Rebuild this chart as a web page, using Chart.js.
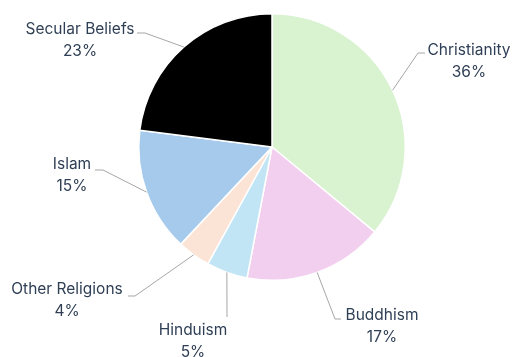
<!DOCTYPE html>
<html>
<head>
<meta charset="utf-8">
<script src="https://cdn.jsdelivr.net/npm/chart.js@4.4.1/dist/chart.umd.min.js"></script>
<style>
  html, body { margin: 0; padding: 0; background: #fff; }
  #wrap { width: 513px; height: 357px; }
</style>
</head>
<body>
<div id="wrap"><canvas id="myChart" width="513" height="357"></canvas></div>
<script>
const categories = ['Christianity', 'Buddhism', 'Hinduism', 'Other Religions', 'Islam', 'Secular Beliefs'];
const shares = [36, 17, 5, 4, 15, 23];
const sliceColors = ['#d9f2d0', '#f2cfee', '#c1e5f5', '#fbe3d6', '#a6caec', '#000000'];

// where each label sits: elbow of the leader, end of the leader, text centre of the first line
const labelLayout = [
  { elbow: [418, 53], end: [425, 53], tx: 469, ty: 50 },
  { elbow: [335, 319], end: [341, 319], tx: 382, ty: 315 },
  { elbow: [227, 317], end: [227, 317], tx: 193, ty: 330 },
  { elbow: [135, 296], end: [128, 296], tx: 67, ty: 289 },
  { elbow: [103, 170], end: [95, 170], tx: 72, ty: 164 },
  { elbow: [145, 33], end: [137, 33], tx: 80, ty: 29 }
];

const outsideLabels = {
  id: 'outsideLabels',
  afterDraw(chart) {
    const ctx = chart.ctx;
    const arcs = chart.getDatasetMeta(0).data;
    ctx.save();
    arcs.forEach((arc, i) => {
      const p = arc.getProps(['x', 'y', 'startAngle', 'endAngle', 'outerRadius'], true);
      const mid = (p.startAngle + p.endAngle) / 2;
      const sx = p.x + Math.cos(mid) * p.outerRadius;
      const sy = p.y + Math.sin(mid) * p.outerRadius;
      const l = labelLayout[i];
      ctx.strokeStyle = '#a6a6a6';
      ctx.lineWidth = 1;
      ctx.beginPath();
      ctx.moveTo(sx, sy);
      ctx.lineTo(l.elbow[0], l.elbow[1]);
      ctx.lineTo(l.end[0], l.end[1]);
      ctx.stroke();
      ctx.fillStyle = '#2f3f55';
      ctx.font = '15.5px Inter';
      ctx.textAlign = 'center';
      ctx.textBaseline = 'middle';
      ctx.fillText(categories[i], l.tx, l.ty);
      ctx.fillText(shares[i] + '%', l.tx, l.ty + 22);
    });
    ctx.restore();
  }
};

const config = {
  type: 'pie',
  data: {
    labels: categories,
    datasets: [{
      data: shares,
      backgroundColor: sliceColors,
      borderColor: '#ffffff',
      borderWidth: 1.5
    }]
  },
  options: {
    responsive: false,
    animation: false,
    layout: { padding: { left: 138, right: 107, top: 13, bottom: 76 } },
    plugins: {
      legend: { display: false },
      tooltip: { enabled: false }
    }
  },
  plugins: [outsideLabels]
};

const ctx = document.getElementById('myChart').getContext('2d');
new Chart(ctx, config);
</script>
</body>
</html>
